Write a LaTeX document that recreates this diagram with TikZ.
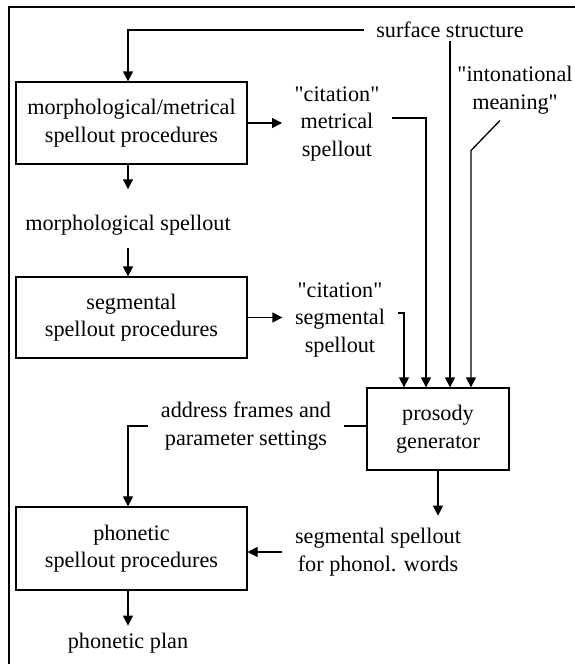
\documentclass[tikz,border=0pt]{standalone}
\usepackage{fontspec}
\setmainfont{Liberation Serif}
\newfontfamily\rawfont{Liberation Serif}
\usetikzlibrary{arrows.meta}
\newcommand\fsz{\fontsize{22.2}{27.5}\selectfont}
\newcommand\dq{{\rawfont\symbol{34}}}
\begin{document}
\begin{tikzpicture}[x=1pt,y=-1pt,line width=1.3pt,
  box/.style={draw,minimum width=231pt,align=center,inner sep=0pt,font=\fsz},
  lbl/.style={align=center,inner xsep=12pt,inner ysep=2pt,font=\fsz},
  arr/.style={-{Triangle[length=10pt,width=10pt]}}]
\useasboundingbox (0,0) rectangle (575,664);
% frame
\draw (9,664) -- (9,7) -- (575,7);
% boxes
\node[box,minimum height=82pt] (b1) at (131.5,123) {morphological/metrical\\spellout procedures};
\node[box,minimum height=81pt] (b2) at (131.5,317.5) {segmental\\spellout procedures};
\node[box,minimum height=83pt] (b3) at (131.5,548.5) {phonetic\\spellout procedures};
\node[box,minimum width=142pt,minimum height=82pt] (pg) at (438,429) {prosody\\generator};
% labels
\node[lbl] (ss) at (450,30) {surface structure};
\node[lbl] (cm) at (337,124) {\dq citation\dq\\metrical\\spellout};
\node[lbl] (im) at (515,90) {\dq intonational\\meaning\dq};
\node[lbl] (ms) at (128,225) {morphological spellout};
\node[lbl] (cs) at (340,320) {\dq citation\dq\\segmental\\spellout};
\node[lbl] (af) at (246,426) {address frames and\\parameter settings};
\node[lbl] (sw) at (378,552) {segmental spellout\\for phonol. words};
\node[lbl] (pp) at (128,643) {phonetic plan};
% connectors
\draw[arr] (ss.west) -| ([xshift=-3.5pt]b1.north);
\draw[arr] (b1.east) -- (cm.west |- b1.east);
\draw[arr] ([yshift=6pt]cm.east) -| ([xshift=-12pt]pg.north);
\draw[arr] (ss.south) -- (ss.south |- pg.north);
\draw[arr] ([xshift=-15pt,yshift=-4pt]im.south) -- ++(-29,30) -- ([xshift=33pt]pg.north);
\draw[arr] ([yshift=7pt]cs.east) -| ([xshift=-34pt]pg.north);
\draw[arr] ([xshift=-3.5pt]b1.south) -- ([yshift=23pt]ms.north);
\draw[arr] ([yshift=-10pt]ms.south) -- (ms.south |- b2.north);
\draw[arr] (b2.east) -- (cs.west |- b2.east);
\draw ([yshift=3pt]pg.west) -- (af.east);
\draw[arr] (af.west) -| ([xshift=-3.5pt]b3.north);
\draw[arr] (pg.south) -- ++(0,45);
\draw[arr] (sw.west) -- (sw.west -| b3.east);
\draw[arr] ([xshift=-3.5pt]b3.south) -- ++(0,35);
\end{tikzpicture}
\end{document}
